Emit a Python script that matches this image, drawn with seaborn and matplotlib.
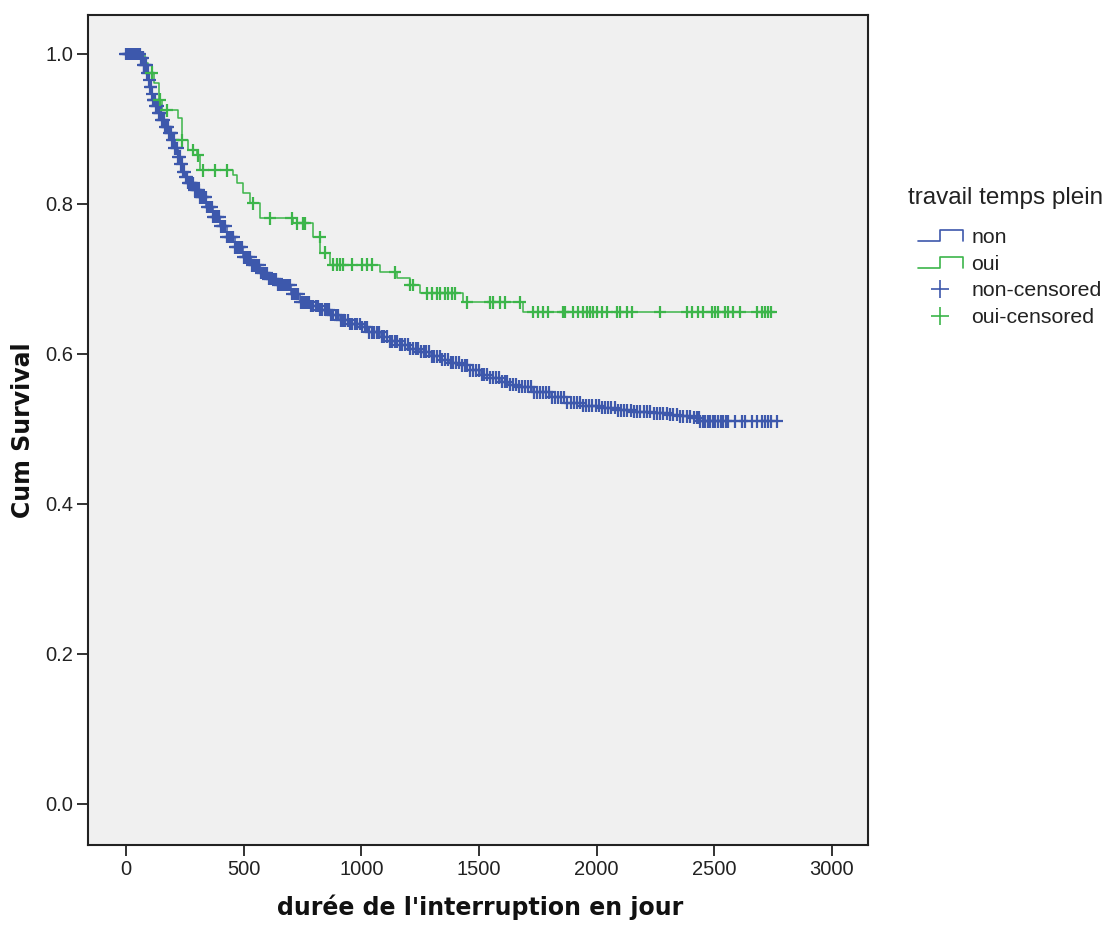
import numpy as np
import pandas as pd
import matplotlib
matplotlib.use("Agg")
import matplotlib.pyplot as plt
import seaborn as sns
from matplotlib.lines import Line2D
from matplotlib.legend_handler import HandlerBase

# ---------------- data ----------------
groups = ["non", "oui"]
legend_title = "travail temps plein"
x_label = "durée de l'interruption en jour"
y_label = "Cum Survival"
x_ticks = [0, 500, 1000, 1500, 2000, 2500, 3000]
y_ticks = [0.0, 0.2, 0.4, 0.6, 0.8, 1.0]

non_times = [0, 60, 75, 89, 96, 102, 109, 115, 125, 136,
             150, 166, 180, 195, 208, 221, 232, 242, 252, 263,
             288, 314, 340, 370, 400, 429, 462, 497, 532, 569,
             605, 642, 700, 740, 780, 824, 865, 909, 950, 994,
             1035, 1079, 1120, 1164, 1205, 1249, 1290, 1334, 1375, 1419,
             1460, 1504, 1545, 1589, 1625, 1662, 1730, 1800, 1874, 1940,
             2014, 2085, 2155, 2230, 2299, 2355, 2410, 2440]
non_surv = [1.0, 0.995, 0.985, 0.975, 0.965, 0.956, 0.947, 0.939, 0.930, 0.921,
            0.912, 0.903, 0.894, 0.885, 0.874, 0.863, 0.853, 0.843, 0.836, 0.828,
            0.818, 0.809, 0.796, 0.783, 0.770, 0.756, 0.742, 0.729, 0.718, 0.708,
            0.700, 0.692, 0.680, 0.669, 0.664, 0.659, 0.652, 0.645, 0.640, 0.636,
            0.629, 0.623, 0.617, 0.612, 0.607, 0.603, 0.597, 0.592, 0.588, 0.585,
            0.578, 0.572, 0.568, 0.563, 0.559, 0.556, 0.549, 0.542, 0.535, 0.531,
            0.528, 0.525, 0.523, 0.521, 0.519, 0.517, 0.515, 0.510]
non_censored = [0, 4, 9, 14, 19, 24, 29, 34, 39, 44, 49, 54, 58, 63, 67,
                71, 75, 79, 83, 87, 91, 95, 99, 103, 107, 111, 115, 119, 123, 127,
                131, 135, 139, 143, 148, 152, 157, 161, 166, 170, 175, 179, 184,
                189, 193, 198, 203, 208, 213, 218, 223, 228, 233, 238, 243, 248,
                254, 259, 264, 270, 275, 281, 286, 292, 298, 303, 309, 315, 321,
                327, 333, 339, 345, 351, 357, 364, 370, 376, 383, 389, 396, 402,
                409, 415, 422, 429, 436, 443, 450, 457, 464, 471, 478, 485, 492,
                500, 507, 514, 522, 529, 537, 544, 552, 560, 567, 575, 583, 591,
                599, 607, 615, 623, 631, 639, 648, 656, 664, 673, 681, 690, 698,
                707, 716, 724, 733, 742, 751, 760, 769, 778, 787, 796,
                806, 815, 825, 834, 844, 853, 863, 872, 882, 892, 902, 912, 922,
                932, 942, 952, 962, 972, 983, 993, 1003, 1014, 1024, 1035, 1045,
                1056, 1066, 1077, 1088, 1098, 1109, 1120, 1131, 1142, 1153, 1164,
                1175, 1186, 1197, 1208, 1219, 1231, 1242, 1253, 1265, 1276, 1287,
                1299, 1310, 1322, 1333, 1345, 1356, 1368, 1380, 1391, 1403, 1415,
                1427, 1439, 1451, 1463, 1475, 1487, 1499, 1511, 1523, 1535, 1547,
                1560, 1572, 1584, 1597, 1609, 1621, 1634, 1646, 1659, 1671, 1684,
                1696, 1709, 1722, 1734, 1747, 1760, 1773, 1786, 1799, 1811, 1824,
                1837, 1850, 1863, 1876, 1890, 1903, 1916, 1929, 1942, 1956, 1969,
                1982, 1996, 2009, 2022, 2036, 2049, 2063, 2076, 2090, 2104, 2117,
                2131, 2145, 2158, 2172, 2186, 2200, 2214, 2228, 2242, 2256, 2270,
                2284, 2298, 2312, 2326, 2340, 2355, 2369, 2383, 2397, 2412, 2426,
                2434, 2440, 2452, 2461, 2472, 2482, 2495, 2505, 2516, 2527, 2537,
                2548, 2558, 2588, 2618, 2631, 2660, 2682, 2703, 2716, 2729, 2740,
                2765]

oui_times = [0, 80, 95, 120, 140, 153, 221, 238, 262, 302, 314, 455, 470, 497,
             527, 569, 710, 795, 825, 867, 1080, 1152, 1207, 1250, 1432, 1687]
oui_surv = [1.0, 0.988, 0.975, 0.961, 0.939, 0.925, 0.915, 0.885, 0.872, 0.865,
            0.845, 0.839, 0.828, 0.815, 0.801, 0.781, 0.774, 0.756, 0.735, 0.719,
            0.709, 0.701, 0.692, 0.681, 0.669, 0.656]
oui_censored = [110, 144, 174, 238, 285, 306, 327, 378, 429, 540, 612, 705, 727,
                752, 761, 824, 846, 880, 897, 909, 922, 960, 1003, 1024, 1045,
                1143, 1207, 1220, 1279, 1300, 1322, 1334, 1356, 1368, 1385, 1398,
                1449, 1547, 1560, 1589, 1611, 1674, 1730, 1751, 1772, 1793, 1857,
                1866, 1900, 1921, 1942, 1959, 1972, 1985, 2002, 2023, 2044, 2087,
                2099, 2129, 2150, 2269, 2384, 2405, 2431, 2452, 2490, 2503, 2516,
                2546, 2558, 2580, 2609, 2682, 2703, 2716, 2729, 2741]

# ---------------- styling ----------------
BLUE = "#3d58ac"
GREEN = "#3cb54a"
palette = {"non": BLUE, "oui": GREEN}

sns.set_theme(style="white")
plt.rcParams["font.family"] = ["Liberation Sans", "DejaVu Sans"]


def step_frame(times, surv, censored, label):
    t = list(times) + [max(censored)]
    s = list(surv) + [surv[-1]]
    return pd.DataFrame({"time": t, "surv": s, "group": label})


def censor_frame(times, surv, censored, label):
    idx = np.searchsorted(np.asarray(times), np.asarray(censored), side="right") - 1
    return pd.DataFrame({"time": censored, "surv": np.asarray(surv)[idx], "group": label})


lines_df = pd.concat([step_frame(non_times, non_surv, non_censored, "non"),
                      step_frame(oui_times, oui_surv, oui_censored, "oui")],
                     ignore_index=True)
cens_df = pd.concat([censor_frame(non_times, non_surv, non_censored, "non"),
                     censor_frame(oui_times, oui_surv, oui_censored, "oui")],
                    ignore_index=True)

W, H = 1113, 925
fig = plt.figure(figsize=(W / 100, H / 100), dpi=100)
fig.patch.set_facecolor("white")
ax = fig.add_axes([88 / W, 1 - 845 / H, 780 / W, 830 / H])
ax.set_facecolor("#f0f0f0")

sns.lineplot(data=lines_df, x="time", y="surv", hue="group", hue_order=groups,
             palette=palette, drawstyle="steps-post", estimator=None, sort=False,
             legend=False, linewidth=1.1, ax=ax, zorder=2)
sns.scatterplot(data=cens_df, x="time", y="surv", hue="group", hue_order=groups,
                palette=palette, marker="+", s=85, linewidth=1.6, legend=False,
                ax=ax, zorder=3)

ax.set_xlim(-161, 3153)
ax.set_ylim(-0.055, 1.052)
ax.set_xticks(x_ticks)
ax.set_xticklabels([str(v) for v in x_ticks])
ax.set_yticks(y_ticks)
ax.set_yticklabels([f"{v:.1f}" for v in y_ticks])
ax.tick_params(axis="both", which="both", bottom=True, left=True, direction="out",
               length=8, width=1.3, color="#222222", labelcolor="#222222",
               labelsize=14.5)
ax.tick_params(axis="x", pad=3)
ax.tick_params(axis="y", pad=2.5)
for sp in ax.spines.values():
    sp.set_color("#222222")
    sp.set_linewidth(1.5)

ax.set_xlabel(x_label, family="DejaVu Sans", fontweight="bold", fontsize=17,
              color="#111111")
ax.set_ylabel(y_label, family="DejaVu Sans", fontweight="bold", fontsize=17,
              color="#111111")
ax.xaxis.set_label_coords(0.503, -0.06)
ax.yaxis.set_label_coords(-0.068, 0.5)


class StepHandler(HandlerBase):
    def create_artists(self, legend, orig_handle, xdescent, ydescent, width,
                       height, fontsize, trans):
        xs = np.array([0, 0.5 * width, 0.5 * width, width, width]) - xdescent
        lo, hi = 0.12 * height, 0.85 * height
        ys = np.array([lo, lo, hi, hi, lo]) - ydescent
        ln = Line2D(xs, ys, color=orig_handle.get_color(),
                    linewidth=orig_handle.get_linewidth())
        ln.set_transform(trans)
        return [ln]


h_non = Line2D([], [], color=BLUE, linewidth=1.2)
h_oui = Line2D([], [], color=GREEN, linewidth=1.2)
h_non_c = Line2D([], [], color=BLUE, marker="+", linestyle="None",
                 markersize=13, markeredgewidth=1.2)
h_oui_c = Line2D([], [], color=GREEN, marker="+", linestyle="None",
                 markersize=13, markeredgewidth=1.2)

fig.text(908 / W, 1 - 198 / H, legend_title, ha="left", va="center",
         fontsize=17.5, color="#222222")
fig.legend([h_non, h_oui, h_non_c, h_oui_c],
           [f"{groups[0]}", f"{groups[1]}", f"{groups[0]}-censored",
            f"{groups[1]}-censored"],
           handler_map={h_non: StepHandler(), h_oui: StepHandler()},
           loc="upper left", bbox_to_anchor=(918 / W, 1 - 228 / H),
           bbox_transform=fig.transFigure, frameon=False, borderpad=0,
           borderaxespad=0, fontsize=15.3, handlelength=2.1, handletextpad=0.4,
           labelspacing=0.36, labelcolor="#222222")

fig.savefig("out.png", dpi=100)
